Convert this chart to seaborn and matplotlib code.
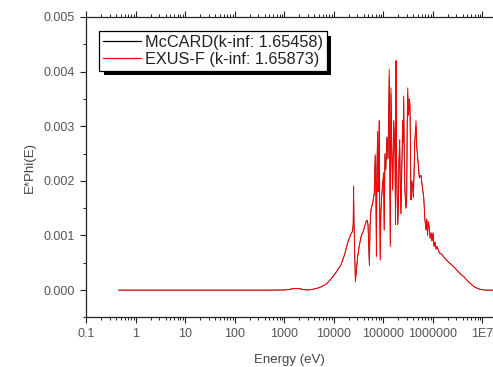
import numpy as np
import pandas as pd
import seaborn as sns
import matplotlib.pyplot as plt
import matplotlib.ticker as mticker
from matplotlib.lines import Line2D
from matplotlib.patches import Rectangle

# energy grid (eV) and E*Phi(E)
energy = [
    0.45, 1.0, 10.0, 100.0, 500.0, 1000.0, 1200.0, 1500.0, 1800.0, 2100.0,
    2500.0, 2900.0, 3500.0, 4500.0, 5500.0, 7000.0, 8700.0, 11000.0, 13900.0, 16500.0,
    19200.0, 22000.0, 23900.0, 24600.0, 25070.0, 25600.0, 26500.0, 27250.0, 28500.0, 30200.0,
    32500.0, 35240.0, 40000.0, 44470.0, 47000.0, 49000.0, 52300.0, 54000.0, 56100.0, 61000.0,
    65500.0, 68600.0, 70800.0, 72500.0, 74200.0, 76700.0, 78500.0, 80500.0, 82700.0, 84500.0,
    86600.0, 89000.0, 92400.0, 96000.0, 101400.0, 104000.0, 107800.0, 112000.0, 118300.0, 124000.0,
    131600.0, 135000.0, 138000.0, 142600.0, 148000.0, 154300.0, 161800.0, 166000.0, 171800.0, 176000.0,
    180000.0, 184000.0, 188500.0, 195000.0, 200400.0, 207000.0, 213800.0, 220000.0, 227000.0, 236000.0,
    245800.0, 251000.0, 257600.0, 265000.0, 273700.0, 285000.0, 296400.0, 303000.0, 310500.0, 322000.0,
    334500.0, 345500.0, 353000.0, 362000.0, 375000.0, 391900.0, 404000.0, 416000.0, 430000.0, 457000.0,
    475000.0, 494000.0, 533000.0, 577000.0, 610000.0, 654000.0, 690000.0, 728000.0, 755000.0, 781000.0,
    810000.0, 849000.0, 880000.0, 920000.0, 960000.0, 1009000.0, 1060000.0, 1108000.0, 1160000.0, 1216000.0,
    1355000.0, 1500000.0, 1687000.0, 2030000.0, 2690000.0, 3390000.0, 4280000.0, 5410000.0, 6830000.0, 8600000.0,
    11400000.0, 20000000.0,
]

mccard = [
    0.0, 0.0, 0.0, 0.0, 0.0, 0.000003, 0.000012, 0.000027, 0.000032, 0.000024,
    0.000011, 0.000003, 0.00001, 0.00003, 0.00006, 0.00011, 0.0002, 0.00032, 0.00046, 0.00065,
    0.00088, 0.00102, 0.00108, 0.0012, 0.0018, 0.0012, 0.0006, 0.00016, 0.00035, 0.0006,
    0.0008, 0.00097, 0.0011, 0.00124, 0.00128, 0.0012, 0.00044, 0.0012, 0.00146, 0.0016,
    0.00176, 0.00245, 0.00174, 0.00064, 0.0022, 0.0029, 0.0018, 0.0021, 0.003, 0.0015,
    0.00058, 0.0014, 0.0017, 0.0019, 0.00213, 0.0011, 0.00248, 0.0022, 0.0028, 0.0024,
    0.0039, 0.0021, 0.00085, 0.0036, 0.0026, 0.00185, 0.0030, 0.0029, 0.0025, 0.0012,
    0.0041, 0.0026, 0.00185, 0.0012, 0.0015, 0.0024, 0.0027, 0.0019, 0.0014, 0.0022,
    0.0030, 0.0027, 0.0035, 0.0024, 0.0018, 0.0015, 0.00165, 0.0030, 0.0036, 0.0032,
    0.0034, 0.0033, 0.0025, 0.00165, 0.0020, 0.0019, 0.0017, 0.0021, 0.0027, 0.0030,
    0.0026, 0.0024, 0.00205, 0.0021, 0.0019, 0.0017, 0.0013, 0.0011, 0.0013, 0.0010,
    0.00124, 0.00115, 0.00095, 0.00104, 0.0009, 0.00104, 0.0008, 0.00088, 0.00075, 0.0008,
    0.00068, 0.00066, 0.0006, 0.00052, 0.00042, 0.00032, 0.00024, 0.00014, 0.00006, 0.00002,
    0.0, 0.0,
]

exusf = [
    0.0, 0.0, 0.0, 0.0, 0.0, 0.000003, 0.00001, 0.000025, 0.00003, 0.000022,
    0.00001, 0.000003, 0.00001, 0.00003, 0.00006, 0.00011, 0.0002, 0.00032, 0.00046, 0.00065,
    0.00088, 0.00102, 0.00108, 0.0012, 0.0019, 0.0012, 0.0006, 0.00015, 0.00035, 0.0006,
    0.0008, 0.00097, 0.0011, 0.00125, 0.00128, 0.0012, 0.00046, 0.0012, 0.00147, 0.0016,
    0.00178, 0.00248, 0.00175, 0.00062, 0.0022, 0.0029, 0.0018, 0.0021, 0.0031, 0.0015,
    0.00055, 0.0014, 0.0017, 0.0019, 0.00215, 0.0011, 0.0025, 0.0022, 0.0028, 0.0024,
    0.00404, 0.0021, 0.0008, 0.0037, 0.0026, 0.00183, 0.0031, 0.0029, 0.0025, 0.0012,
    0.0042, 0.0026, 0.00183, 0.0012, 0.0015, 0.0024, 0.00275, 0.0019, 0.0014, 0.0022,
    0.0031, 0.0027, 0.00355, 0.0024, 0.0018, 0.0015, 0.00165, 0.0030, 0.0037, 0.0032,
    0.0035, 0.0034, 0.0025, 0.00165, 0.0020, 0.0019, 0.0017, 0.0021, 0.0027, 0.0031,
    0.0026, 0.00244, 0.00207, 0.0021, 0.0019, 0.0017, 0.0013, 0.0011, 0.0013, 0.0010,
    0.00125, 0.00115, 0.00095, 0.00105, 0.0009, 0.00105, 0.0008, 0.00088, 0.00075, 0.0008,
    0.00068, 0.00066, 0.0006, 0.00052, 0.00042, 0.00032, 0.00024, 0.00014, 0.00006, 0.00002,
    0.0, 0.0,
]

labels = ['McCARD(k-inf: 1.65458)', 'EXUS-F (k-inf: 1.65873)']
colors = ['black', 'red']
xtick_vals = [0.1, 1, 10, 100, 1000, 10000, 100000, 1000000, 10000000]
xtick_text = ['0.1', '1', '10', '100', '1000', '10000', '100000', '1000000', '1E7']

sns.set_style('ticks')
plt.rcParams['font.family'] = ['Liberation Sans', 'DejaVu Sans']

df = pd.concat([
    pd.DataFrame({'energy': energy, 'value': mccard, 'code': labels[0]}),
    pd.DataFrame({'energy': energy, 'value': exusf, 'code': labels[1]}),
])

fig = plt.figure(figsize=(4.93, 3.67), dpi=100)
ax = fig.add_axes([0.175, 0.135, 0.825, 0.819])

sns.lineplot(data=df, x='energy', y='value', hue='code', hue_order=labels,
             palette=dict(zip(labels, colors)), estimator=None, sort=False,
             lw=0.7, legend=False, ax=ax)
ax.lines[0].set_linewidth(0.45)

ax.set_xscale('log')
ax.set_xlim(0.1, 1.64e7)
ax.set_ylim(-0.0005, 0.005)

ax.xaxis.set_major_locator(mticker.FixedLocator(xtick_vals))
ax.xaxis.set_major_formatter(mticker.FixedFormatter(xtick_text))
ax.xaxis.set_minor_locator(mticker.LogLocator(base=10, subs=np.arange(2, 10), numticks=20))
ax.xaxis.set_minor_formatter(mticker.NullFormatter())
ax.yaxis.set_major_locator(mticker.MultipleLocator(0.001))
ax.yaxis.set_minor_locator(mticker.MultipleLocator(0.0005))
ax.yaxis.set_major_formatter(mticker.FormatStrFormatter('%.3f'))

ax.spines['right'].set_visible(False)
for s in ['left', 'bottom', 'top']:
    ax.spines[s].set_color('#222222')
    ax.spines[s].set_linewidth(0.9)

ax.tick_params(axis='both', which='both', direction='out', color='#222222',
               labelcolor='#555555', labelsize=9)
ax.tick_params(axis='x', which='both', top=True, labeltop=False)
ax.tick_params(which='major', length=4.5, width=0.8, pad=3)
ax.tick_params(which='minor', length=2.5, width=0.7)
ax.tick_params(axis='y', which='major', pad=4)

ax.set_xlabel('Energy (eV)', fontsize=9.5, color='#444444', labelpad=10)
ax.set_ylabel('E*Phi(E)', fontsize=9.5, color='#444444', labelpad=5)

handles = [Line2D([], [], color=c, lw=0.9) for c in colors]
leg = ax.legend(handles, labels, loc='upper left', bbox_to_anchor=(0.032, 0.953),
                borderaxespad=0, fancybox=False, frameon=True, fontsize=11.7,
                handlelength=2.3, handletextpad=0.25, labelspacing=0.1,
                borderpad=0.25)
frame = leg.get_frame()
frame.set_edgecolor('black')
frame.set_linewidth(0.9)
frame.set_facecolor('white')
frame.set_alpha(1)
for t in leg.get_texts():
    t.set_color('#222222')

# Origin-style solid drop shadow behind the legend box
fig.canvas.draw()
bb = frame.get_window_extent()
ax.add_artist(Rectangle((bb.x0 + 4.5, bb.y0 - 4.5), bb.width, bb.height, transform=None,
                        facecolor='black', edgecolor='none', zorder=4.9))

fig.savefig('out.png', dpi=100)
